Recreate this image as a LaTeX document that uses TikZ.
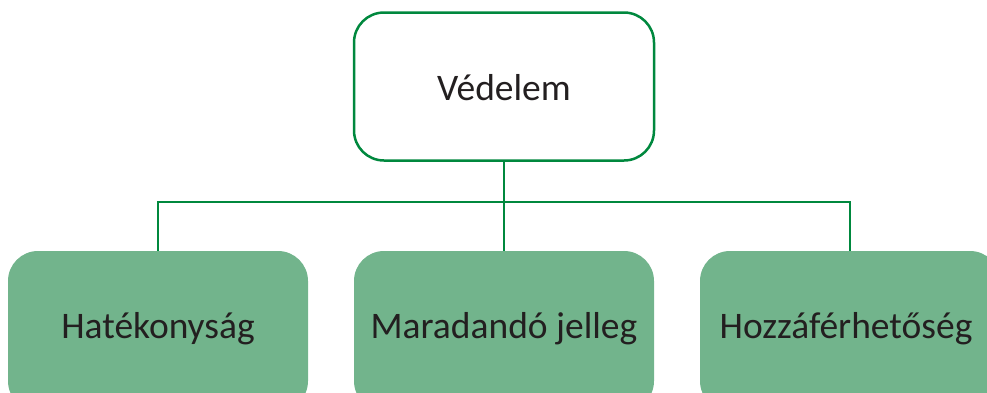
\documentclass[tikz,border=0pt]{standalone}
\usepackage{fontspec}
\setmainfont{Carlito}
\definecolor{linegreen}{HTML}{00883E}
\definecolor{boxgreen}{HTML}{72B48C}
\definecolor{txt}{HTML}{231F20}
\begin{document}
\begin{tikzpicture}[x=1pt,y=-1pt,
  topbox/.style={draw=linegreen, line width=2.5pt, fill=white, rounded corners=30pt,
    minimum width=300pt, minimum height=148pt, inner sep=0pt},
  leafbox/.style={fill=boxgreen, draw=none, rounded corners=30pt,
    minimum width=300pt, minimum height=160pt, inner sep=0pt},
  lbl/.style={text=txt, font=\fontsize{37.5}{44}\selectfont, anchor=base, inner sep=0pt},
  conn/.style={draw=linegreen, line width=2.5pt}]
\useasboundingbox (0,0) rectangle (987,392);
\clip (0,0) rectangle (987,392);
% boxes
\node[topbox] (top) at (504,86.5) {};
\node[leafbox] (h) at (158,331) {};
\node[leafbox] (m) at (504,331) {};
\node[leafbox] (z) at (850,331) {};
% labels
\node[lbl] (tl) at (504,100) {Védelem};
\node[lbl] (hl) at (158,338) {Hatékonyság};
\node[lbl] (ml) at (504,338) {Maradandó jelleg};
\node[lbl] (zl) at (846,338) {Hozzáférhetőség};
% connectors
\coordinate (bus) at (504,202);
\draw[conn] (top.south) -- (m.north);
\draw[conn] (h.north) |- (bus) -| (z.north);
\end{tikzpicture}
\end{document}
